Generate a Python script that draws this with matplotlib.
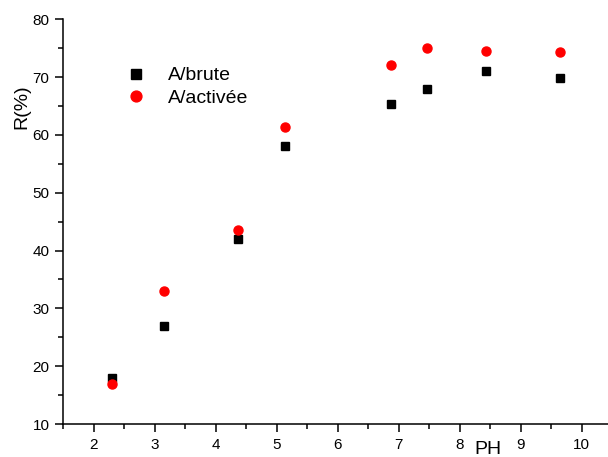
import matplotlib.pyplot as plt
from matplotlib.ticker import MultipleLocator

plt.rcParams['font.family'] = ['Liberation Sans', 'DejaVu Sans']

ph = [2.3, 3.15, 4.37, 5.13, 6.88, 7.46, 8.43, 9.64]
brute = [18.0, 27.0, 42.0, 58.0, 65.3, 68.0, 71.0, 69.8]
activee = [17.0, 33.0, 43.5, 61.3, 72.1, 75.0, 74.5, 74.3]

fig = plt.figure(figsize=(6.08, 4.57), dpi=100)
ax = fig.add_axes([63.3 / 608, 33 / 457, (608 - 63.3) / 608, (424 - 19.3) / 457])

ax.plot(ph, brute, 's', color='black', ms=6, label='A/brute')
ax.plot(ph, activee, 'o', color='red', ms=6.5, label='A/activée')

ax.set_xlim(1.5, 1.5 + (608 - 63.3) / 61)
ax.set_ylim(10, 80)
ax.xaxis.set_major_locator(MultipleLocator(1))
ax.xaxis.set_minor_locator(MultipleLocator(0.5))
ax.yaxis.set_major_locator(MultipleLocator(10))
ax.yaxis.set_minor_locator(MultipleLocator(5))

for s in ['top', 'right']:
    ax.spines[s].set_visible(False)
for s in ['left', 'bottom']:
    ax.spines[s].set_linewidth(1.1)
ax.tick_params(which='major', length=6, width=1.1, labelsize=11, direction='out', pad=4)
ax.tick_params(which='minor', length=3.4, width=1.1, direction='out')

fig.text(488 / 608, 1 - 450 / 457, 'PH', ha='center', va='center', fontsize=14)
fig.text(22 / 608, 1 - 107 / 457, 'R(%)', ha='center', va='center', rotation=90, fontsize=14)

ax.legend(loc='upper left', bbox_to_anchor=(0.0835, 0.926), frameon=False, fontsize=14,
          markerscale=1.2, handletextpad=1.15, labelspacing=0.27, handlelength=1.0)

fig.savefig('out.png', dpi=100)
